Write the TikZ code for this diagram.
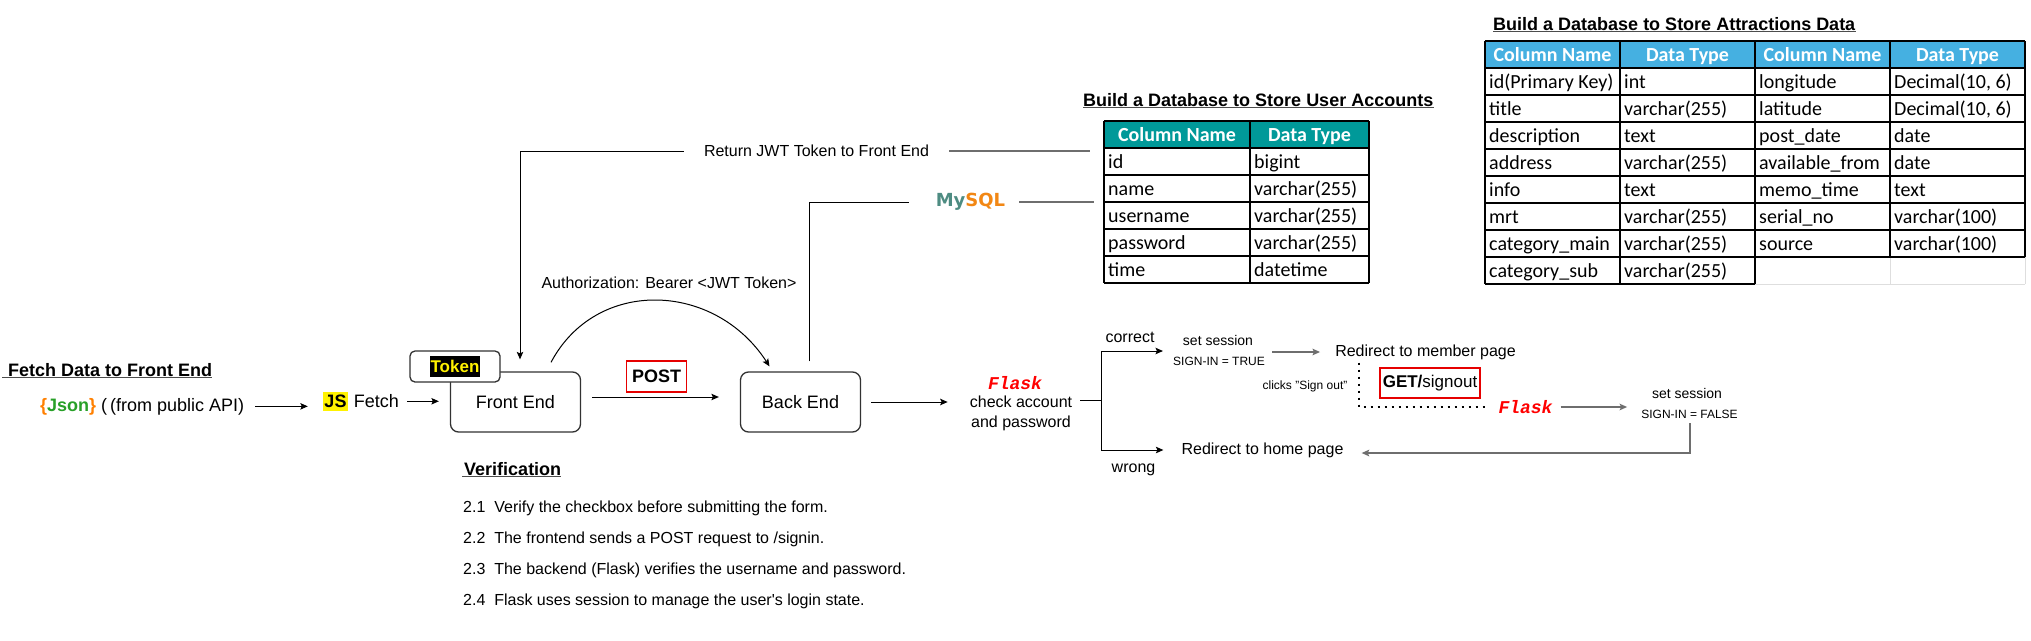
\documentclass[tikz,border=0pt]{standalone}
\usepackage{fontspec}
\setmainfont{Liberation Sans}
\newfontfamily\calfont{Carlito}
\newfontfamily\flaskfont{Liberation Mono}
\newfontfamily\sqlfont{DejaVu Sans}
\usetikzlibrary{arrows.meta,positioning}
\definecolor{boxline}{RGB}{50,50,50}
\definecolor{lgray}{RGB}{110,110,110}
\definecolor{postred}{RGB}{230,0,0}
\definecolor{flaskred}{RGB}{255,0,0}
\definecolor{tealhd}{RGB}{0,153,153}
\definecolor{bluehd}{RGB}{69,176,225}
\definecolor{jsonor}{RGB}{255,128,0}
\definecolor{jsongr}{RGB}{40,160,40}
\definecolor{sqlteal}{RGB}{78,140,130}
\definecolor{sqlor}{RGB}{242,135,20}
\definecolor{faint}{RGB}{222,222,222}
\newcommand{\fsz}[1]{\fontsize{#1}{#1}\selectfont}
\tikzset{
  arr/.style={-{Stealth[length=7.5pt,width=6.5pt,inset=1.5pt]}},
  flow/.style={arr,line width=1pt},
  gflow/.style={arr,line width=1.5pt,lgray},
  dotline/.style={line width=2pt,dash pattern=on 2pt off 5pt},
  txt/.style={inner sep=0pt,font=\fsz{16}},
  small/.style={inner sep=0pt,font=\fsz{12}},
  heading/.style={inner sep=0pt,font=\fsz{18}\bfseries},
  uline/.style={line width=1.5pt,black!70},
  endbox/.style={draw=boxline,line width=1.3pt,rounded corners=8pt,minimum width=130pt,minimum height=60pt,font=\fsz{18}},
  redbox/.style={draw=postred,line width=1.2pt,inner sep=0pt},
  flask/.style={inner sep=0pt,text=flaskred,font=\flaskfont\fsz{18}\bfseries\itshape},
  tabline/.style={line width=1.2pt,black},
  hd/.style={inner sep=0pt,anchor=base,text=white,font=\calfont\fsz{20}\bfseries},
  cell/.style={inner sep=0pt,anchor=base west,font=\calfont\fsz{20}},
}
\begin{document}
\begin{tikzpicture}[x=1pt,y=-1pt]
  \fill[white] (0,0) rectangle (2031,640);
  \useasboundingbox (0,0) rectangle (2031,640);

  % fetch data
  \node[heading,anchor=base west] (fetchT) at (8,376) {Fetch Data to Front End};
  \draw[uline] ([xshift=-6pt,yshift=-1.5pt]fetchT.base west) -- ([yshift=-1.5pt]fetchT.base east);
  \node[inner sep=0pt,font=\fsz{18},anchor=base west] (json) at (40,411)
    {\textbf{\textcolor{jsonor}{\{}\textcolor{jsongr}{Json}\textcolor{jsonor}{\}}} (\,(from public API)};
  \node[fill=yellow,inner xsep=1pt,inner ysep=0pt,minimum height=19pt,font=\fsz{18}\bfseries] (js) at (335.5,401.5) {JS};
  \node[inner sep=0pt,font=\fsz{18},base right=6pt of js] (fetch) {Fetch};
  \draw[flow,shorten <=11pt,shorten >=15.5pt] (json.east) -- (json.east -| js.west);

  % front end and back end
  \node[endbox] (FE) at (515.5,402) {Front End};
  \draw[flow,shorten <=8pt,shorten >=11pt] (fetch.east) -- (fetch.east -| FE.west);
  \node[draw=boxline,line width=1.3pt,rounded corners=5pt,fill=white,minimum width=90pt,minimum height=31pt,inner sep=0pt] (tokenbox) at (455,366.5) {};
  \node[fill=black,text=yellow,font=\fsz{17}\bfseries,inner xsep=1pt,inner ysep=4pt] (token) at (tokenbox.center) {Token};
  \node[redbox,minimum width=60pt,minimum height=31pt,font=\fsz{18}\bfseries] (post) at (656.5,376.5) {POST};
  \node[endbox,minimum width=120pt] (BE) at (800.5,402) {Back End};
  \draw[flow,shorten <=11pt,shorten >=21pt] ([yshift=5pt]FE.east) -- ([yshift=5pt]BE.west);
  \draw[flow] ([xshift=35.5pt,yshift=9pt]FE.north) .. controls +(45,-85) and +(-55,-85) .. ([xshift=-31pt,yshift=5pt]BE.north);
  \node[txt] (auth) at (669,283) {Authorization: Bearer <JWT Token>};

  % token and database links
  \coordinate (utab) at (1104,121);
  \node[txt,inner xsep=20pt] (ret) at (816.5,151) {Return JWT Token to Front End};
  \draw[flow] (ret.west) -| ([xshift=4.5pt,yshift=12pt]FE.north);
  \draw[line width=1.5pt,lgray,shorten >=14pt] (ret.east) -- (ret.east -| utab);
  \node[inner xsep=14pt,inner ysep=0pt,font=\sqlfont\fsz{18}\bfseries] (mysql) at (970.5,202) {\textcolor{sqlteal}{My}\textcolor{sqlor}{SQL}};
  \draw[line width=1pt,shorten >=13pt] ([xshift=8.5pt,yshift=10pt]BE.north) |- (mysql.west);
  \draw[line width=1.5pt,lgray,shorten >=10pt] (mysql.east) -- (mysql.east -| utab);

  % flask check
  \node[flask] (flask1) at (1015,383) {Flask};
  \node[inner sep=0pt,align=center,font=\fontsize{16}{20}\selectfont] (check) at (1021,413) {check account\\and password};
  \draw[flow,shorten <=10pt,shorten >=22pt] (BE.east) -- (BE.east -| check.west);
  \coordinate (fork) at (1101,400);
  \draw[line width=1pt,shorten <=8pt] (check.east |- fork) -- (fork);
  \node[inner sep=0pt,font=\fsz{14}] (sessT) at (1218,340) {set session};
  \node[small] (signT) at (1219,361) {SIGN-IN = TRUE};
  \draw[flow,shorten >=10pt] (fork) |- ([yshift=10pt]signT.west);
  \node[txt,inner xsep=18pt] (home) at (1262.5,450) {Redirect to home page};
  \draw[flow] (fork) |- (home.west);
  \node[txt] (correct) at (1130,337) {correct};
  \node[txt] (wrong) at (1133.5,470) {wrong};
  \node[txt,inner xsep=15pt] (member) at (1425.5,352) {Redirect to member page};
  \draw[gflow,shorten <=7pt] (signT.east |- member.west) -- (member.west);

  % sign out
  \node[flask] (flask2) at (1525.5,407) {Flask};
  \draw[dotline,shorten <=3pt,shorten >=11pt] ([xshift=39pt]member.south west) |- (flask2.west);
  \node[small] (clicks) at (1305,386) {clicks "Sign out"};
  \node[redbox,minimum width=100pt,minimum height=30pt,font=\fsz{17}] (get) at (1430,383) {\textbf{GET/}signout};
  \node[inner sep=0pt,font=\fsz{14}] (sessF) at (1687,393) {set session};
  \node[small] (signF) at (1689.5,414) {SIGN-IN = FALSE};
  \draw[gflow,shorten <=8pt,shorten >=14pt] (flask2.east) -- (flask2.east -| signF.west);
  \draw[gflow,shorten <=5pt] ([xshift=0.5pt]signF.south) |- ([yshift=-3pt]home.east);

  % verification
  \node[heading,anchor=base west] (verT) at (464,475) {Verification};
  \draw[uline] ([xshift=-2pt,yshift=-1.5pt]verT.base west) -- ([yshift=-1.5pt]verT.base east);
  \foreach \t [count=\i] in {{2.1~~Verify the checkbox before submitting the form.},
      {2.2~~The frontend sends a POST request to /signin.},
      {2.3~~The backend (Flask) verifies the username and password.},
      {2.4~~Flask uses session to manage the user\textquotesingle s login state.}}
    \node[txt,anchor=west] (ver\i) at (463,477+31*\i) {\t};

  % user accounts table
  \node[heading,anchor=base west] (userT) at (1083,106) {Build a Database to Store User Accounts};
  \draw[uline] ([yshift=-1.5pt]userT.base west) -- ([yshift=-1.5pt]userT.base east);
  \fill[tealhd] (1104,121) rectangle (1369,148);
  \foreach \y in {121,148,...,283} \draw[tabline] (1104,\y) -- (1369,\y);
  \foreach \x in {1104,1250,1369} \draw[tabline] (\x,121) -- (\x,283);
  \node[hd] (uh1) at (1177,141) {Column Name};
  \node[hd] (uh2) at (1309.5,141) {Data Type};
  \foreach \n/\t [count=\i] in {id/bigint,name/varchar(255),username/varchar(255),password/varchar(255),time/datetime}{
    \node[cell] (un\i) at (1108,141+27*\i) {\n};
    \node[cell] (ut\i) at (1254,141+27*\i) {\t};
  }

  % attractions table
  \node[heading,anchor=base west] (attrT) at (1493,30) {Build a Database to Store Attractions Data};
  \draw[uline] ([yshift=-1.5pt]attrT.base west) -- ([yshift=-1.5pt]attrT.base east);
  \fill[bluehd] (1485,41) rectangle (2025,68);
  \draw[faint,line width=1pt] (1755,284) -- (2025,284) (1890,257) -- (1890,284) (2025,257) -- (2025,284);
  \foreach \y in {41,68,...,257} \draw[tabline] (1485,\y) -- (2025,\y);
  \draw[tabline] (1485,284) -- (1755,284);
  \foreach \x in {1485,1620,1755} \draw[tabline] (\x,41) -- (\x,284);
  \foreach \x in {1890,2025} \draw[tabline] (\x,41) -- (\x,257);
  \node[hd] (ah1) at (1552.5,61) {Column Name};
  \node[hd] (ah2) at (1687.5,61) {Data Type};
  \node[hd] (ah3) at (1822.5,61) {Column Name};
  \node[hd] (ah4) at (1957.5,61) {Data Type};
  \foreach \a/\b/\c/\d [count=\i] in {id(Primary Key)/int/longitude/{Decimal(10, 6)},
      title/varchar(255)/latitude/{Decimal(10, 6)},
      description/text/post\_date/date,
      address/varchar(255)/available\_from/date,
      info/text/memo\_time/text,
      mrt/varchar(255)/serial\_no/varchar(100),
      category\_main/varchar(255)/source/varchar(100)}{
    \node[cell] (aa\i) at (1489,61+27*\i) {\a};
    \node[cell] (ab\i) at (1624,61+27*\i) {\b};
    \node[cell] (ac\i) at (1759,61+27*\i) {\c};
    \node[cell] (ad\i) at (1894,61+27*\i) {\d};
  }
  \node[cell] (aa8) at (1489,277) {category\_sub};
  \node[cell] (ab8) at (1624,277) {varchar(255)};
\end{tikzpicture}
\end{document}
